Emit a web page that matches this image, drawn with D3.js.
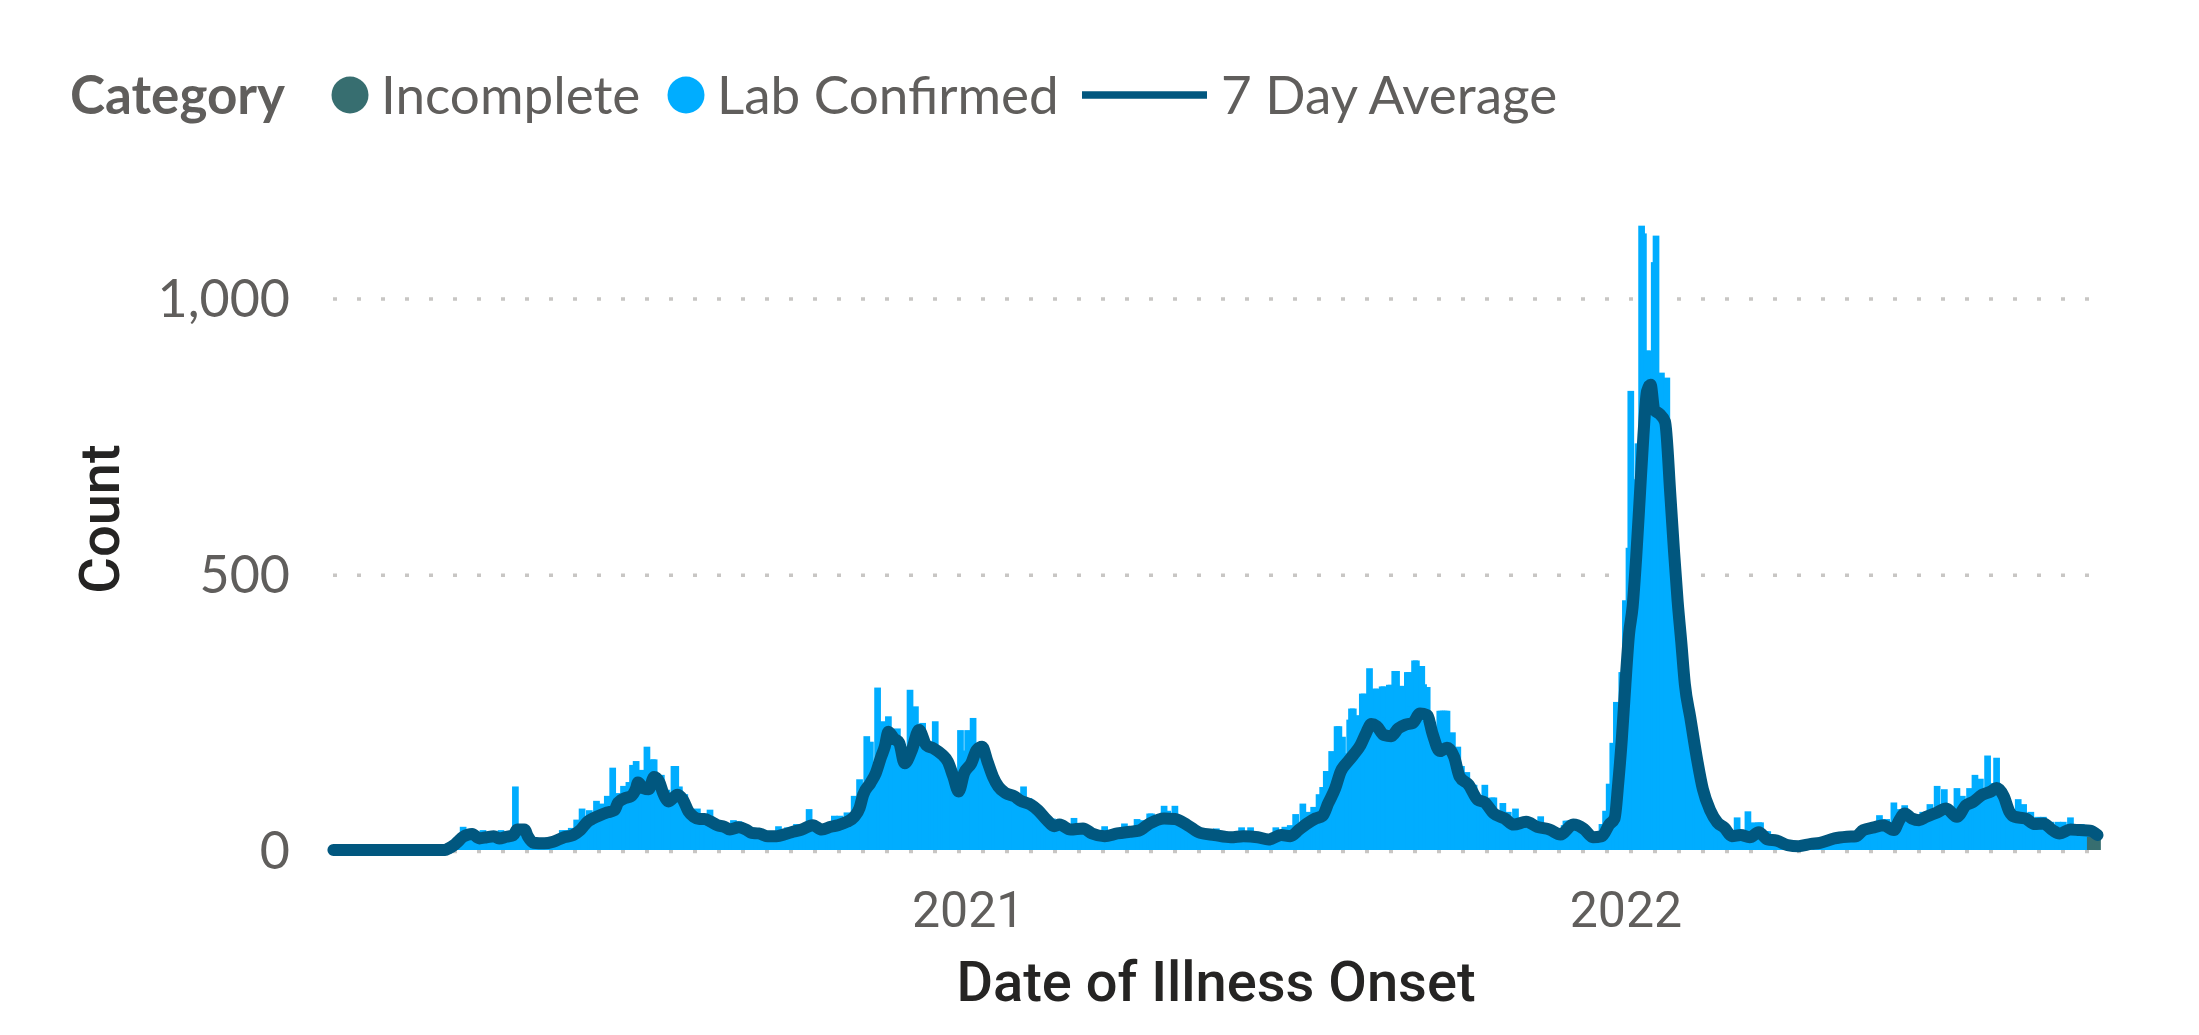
<!DOCTYPE html>
<meta charset="utf-8">
<style>
  body { margin: 0; background: #fff; }
  svg { display: block; }
</style>
<div id="chart"></div>
<script src="https://d3js.org/d3.v7.min.js"></script>
<script>

// first day shown on the axis; every daily array below counts days from here
var startDate = new Date(Date.UTC(2020, 0, 15));

// Lab Confirmed, one value per day (10 per row, row start day in the comment)
var labConfirmed = [
  0,0,0,0,0,0,0,0,0,0,            // 0
  0,0,0,0,0,0,0,0,0,0,
  0,0,0,0,0,0,0,0,0,0,
  0,0,0,0,0,0,0,0,0,0,
  0,0,0,0,0,0,0,0,0,0,
  0,0,0,0,0,0,1,1,2,3,            // 50
  3,4,5,6,7,8,9,11,13,15,
  18,20,42,22,26,28,29,28,27,25,
  22,21,22,36,23,23,24,24,25,25,
  22,21,24,36,24,24,25,26,26,27,
  28,115,38,40,40,40,38,36,27,25, // 100
  20,15,13,12,12,12,12,12,13,13,
  14,14,15,15,16,18,20,36,24,36,
  28,28,40,30,32,55,36,38,75,45,
  48,50,72,55,58,60,89,62,64,84,
  66,68,98,70,72,149,74,80,103,88, // 150
  90,116,95,100,123,105,154,110,161,125,
  120,145,120,125,187,130,140,164,164,130,
  125,120,136,110,105,109,95,100,98,152,
  152,98,115,95,90,101,80,70,66,60,
  60,58,75,55,54,64,52,50,50,73,  // 200
  48,48,46,45,45,44,43,42,42,40,
  40,40,54,42,42,52,41,40,40,40,
  38,36,34,33,33,32,32,31,31,30,
  29,28,28,28,27,27,28,43,28,29,
  30,31,41,32,33,34,35,47,37,38,  // 250
  38,39,40,41,74,42,42,41,40,40,
  40,40,41,42,43,44,45,46,62,50,
  50,62,52,54,55,68,56,58,60,98,
  70,75,128,90,100,110,206,125,196,135,
  140,150,294,170,180,233,190,200,242,205, // 300
  205,200,200,220,195,175,165,160,165,175,
  290,185,195,260,210,215,220,230,200,190,
  196,185,184,183,233,180,176,172,172,170,
  165,160,150,140,133,120,110,106,217,130,
  180,145,217,150,160,239,175,185,187,187, // 350
  187,175,165,151,150,140,133,131,131,120,
  115,109,108,106,104,100,97,97,96,95,
  94,92,90,115,88,86,94,84,82,79,
  76,74,72,68,64,60,58,55,53,57,
  50,48,48,48,47,46,45,44,42,40,  // 400
  38,58,38,37,37,38,39,39,38,36,
  34,32,30,29,28,27,26,27,43,27,
  28,29,30,31,31,32,32,33,34,48,
  34,34,42,34,35,36,56,37,38,54,
  42,44,48,66,66,50,52,60,54,56,  // 450
  57,80,60,71,58,57,56,80,55,55,
  52,57,48,46,44,42,40,38,36,34,
  33,31,30,30,29,29,28,28,28,27,
  39,26,25,25,24,24,24,23,23,23,
  23,24,24,25,41,25,25,25,25,41,  // 500
  24,24,23,23,23,22,22,21,20,20,
  21,22,23,41,25,26,27,27,42,26,
  26,45,28,30,65,34,38,42,84,45,
  48,69,50,52,78,70,70,101,80,114,
  95,143,110,120,179,130,140,224,224,150, // 550
  205,160,175,165,236,256,256,200,244,210,
  220,283,283,230,240,329,250,240,292,292,
  240,240,296,296,240,240,299,299,240,324,
  324,250,297,297,250,250,322,322,260,250,
  343,343,260,333,333,300,250,295,240,225, // 600
  232,200,190,200,252,252,252,252,252,190,
  185,213,170,170,187,140,152,140,130,141,
  120,110,118,118,105,95,90,90,88,118,
  86,85,80,95,95,70,65,62,60,85,
  58,57,69,55,50,48,75,48,50,52,  // 650
  52,53,53,52,50,48,46,45,44,43,
  61,42,42,41,40,40,39,38,38,37,
  36,35,40,45,53,53,53,53,53,45,
  40,36,35,34,33,32,30,28,26,24,
  23,23,24,30,47,45,71,50,120,100, // 700
  194,150,268,200,250,322,300,452,400,547,
  831,600,671,600,736,700,1130,1116,850,904,
  904,850,850,1064,1112,800,780,864,780,760,
  855,680,630,590,540,500,455,415,380,340,
  300,275,255,235,215,195,178,160,145,130, // 750
  115,105,95,86,78,72,66,61,56,52,
  48,44,41,38,34,30,27,25,24,59,
  25,26,25,25,24,70,24,30,50,30,
  30,50,50,30,30,34,34,25,18,15,
  14,13,12,11,10,9,9,8,8,7,       // 800
  7,7,6,6,7,8,9,10,11,12,
  13,13,13,12,12,13,13,14,14,15,
  15,16,17,18,19,20,21,22,22,23,
  23,24,24,25,25,26,28,30,42,34,
  36,38,40,47,40,41,42,43,63,44,  // 850
  45,42,56,40,38,45,86,50,55,74,
  60,62,81,60,60,58,57,56,55,54,
  54,56,69,58,60,62,83,64,66,68,
  116,70,72,73,110,75,70,70,75,68,
  65,112,70,75,98,80,81,84,112,86, // 900
  87,136,95,97,129,100,102,104,171,105,
  121,108,110,167,110,105,100,97,88,78,
  70,66,62,60,60,92,60,58,83,57,
  55,53,69,50,47,48,60,49,48,60,
  48,46,45,51,44,40,38,51,36,32,  // 950
  51,34,35,36,59,37,36,37,47,36,
  47,35,36,35,34,0,0,0,0,0
];

// Incomplete, last days of the series (from 2022-09-16)
var incompleteFirstDay = 975;
var incomplete = [24, 24, 24, 24, 24];

// 7 Day Average (day index, count)
var avgDay = [0,62,64,67,69,72,77,81,85,89,92,96,100,102,106,108,111,117,122,128,133,137,141,144,148,152,156,158,162,165,168,169,172,175,178,181,183,186,191,194,197,200,203,206,209,213,217,220,225,229,232,236,241,246,251,255,260,266,271,276,280,285,289,292,294,298,301,304,306,308,311,314,317,321,325,329,333,338,341,344,347,350,354,357,360,363,366,369,373,378,381,387,391,396,400,403,409,416,421,428,435,442,447,453,461,467,474,481,489,498,505,513,519,526,531,536,540,545,549,552,556,559,563,566,570,573,576,579,583,587,591,595,599,603,607,610,614,618,622,625,630,635,639,644,650,655,662,668,675,681,688,694,699,704,708,711,713,715,717,719,721,723,725,727,729,731,733,736,739,742,744,746,748,750,753,757,760,764,768,772,776,781,786,791,796,801,807,813,820,825,833,840,845,849,855,860,866,869,872,876,880,884,890,895,901,906,910,915,920,923,927,930,933,939,944,949,954,958,964,969,975,979];
var avgCount = [0,0,3,9,15,24,29,21,23,25,21,24,27,37,37,24,13,12,15,23,27,36,51,57,63,68,72,86,94,97,112,122,112,110,132,122,103,88,100,91,70,60,56,56,52,45,42,37,41,37,31,30,25,25,29,33,37,45,37,42,45,51,60,76,100,121,139,169,187,214,202,194,157,181,217,190,184,172,160,133,106,139,157,181,187,160,133,115,103,97,90,82,72,54,43,46,37,39,30,25,30,33,35,48,57,56,45,31,27,23,25,23,19,27,25,37,47,57,62,84,112,142,160,172,190,211,228,224,208,206,220,227,230,247,244,210,179,185,168,133,118,91,86,66,57,46,51,42,37,28,46,38,23,25,46,57,120,200,300,390,440,530,640,750,830,842,797,789,775,640,540,450,377,300,240,160,110,72,50,40,25,27,23,32,19,17,9,7,11,13,21,24,25,36,41,45,36,54,66,57,54,60,68,75,60,81,87,100,106,112,97,70,60,57,47,48,36,30,37,36,35,27];

var yTicks = [0, 500, 1000];
var categories = ["Incomplete", "Lab Confirmed", "7 Day Average"];

var colors = { "Incomplete": "#376E70", "Lab Confirmed": "#00ADFF", "7 Day Average": "#01577F" };
var grey = "#605E5C";

var width = 2199, height = 1035;
var svg = d3.select("#chart").append("svg")
    .attr("width", width)
    .attr("height", height)
    .style("background", "#fff");

function day(i) { return d3.utcDay.offset(startDate, i); }

var x = d3.scaleUtc()
    .domain([startDate, day(979)])
    .range([333.4, 2097.5]);

var y = d3.scaleLinear()
    .domain([0, 1000])
    .range([850, 297.5]);

var barW = 6.7;

// dotted gridlines
svg.append("g")
  .selectAll("line")
  .data(yTicks)
  .enter().append("line")
    .attr("x1", 333)
    .attr("x2", 2099)
    .attr("y1", function(d) { return y(d) + 1.5; })
    .attr("y2", function(d) { return y(d) + 1.5; })
    .attr("stroke", "#C8C6C4")
    .attr("stroke-width", 3.5)
    .attr("stroke-dasharray", "4 20");

// lab confirmed columns
svg.append("g")
    .attr("fill", colors["Lab Confirmed"])
  .selectAll("rect")
  .data(labConfirmed.map(function(v, i) { return { date: day(i), value: v }; })
                    .filter(function(d) { return d.value > 0; }))
  .enter().append("rect")
    .attr("x", function(d) { return x(d.date) - barW / 2; })
    .attr("y", function(d) { return y(d.value); })
    .attr("width", barW)
    .attr("height", function(d) { return y(0) - y(d.value); });

// incomplete columns
svg.append("g")
    .attr("fill", colors["Incomplete"])
  .selectAll("rect")
  .data(incomplete.map(function(v, i) { return { date: day(incompleteFirstDay + i), value: v }; }))
  .enter().append("rect")
    .attr("x", function(d) { return x(d.date) - barW / 2; })
    .attr("y", function(d) { return y(d.value); })
    .attr("width", barW)
    .attr("height", function(d) { return y(0) - y(d.value); });

// 7 day average
var line = d3.line()
    .x(function(d) { return x(d.date); })
    .y(function(d) { return y(d.value); })
    .curve(d3.curveMonotoneX);

svg.append("path")
    .datum(avgDay.map(function(dd, i) { return { date: day(dd), value: avgCount[i] }; }))
    .attr("fill", "none")
    .attr("stroke", colors["7 Day Average"])
    .attr("stroke-width", 12)
    .attr("stroke-linejoin", "round")
    .attr("stroke-linecap", "round")
    .attr("d", line);

// y axis
var yAxis = svg.append("g")
    .attr("transform", "translate(290,0)")
    .call(d3.axisLeft(y).tickValues(yTicks).tickSize(0).tickPadding(0).tickFormat(d3.format(",")));
yAxis.select(".domain").remove();
yAxis.selectAll("text")
    .attr("dy", "0.36em")
    .attr("fill", grey)
    .style("font-family", "'Segoe UI', Lato, sans-serif")
    .style("font-size", "52px");

// x axis
var xAxis = svg.append("g")
    .attr("transform", "translate(0,888)")
    .call(d3.axisBottom(x).tickValues(d3.utcYear.range(startDate, day(979))).tickSize(0).tickPadding(0).tickFormat(d3.utcFormat("%Y")));
xAxis.select(".domain").remove();
xAxis.selectAll("text")
    .attr("dy", "0.78em")
    .attr("fill", grey)
    .style("font-family", "DIN, Roboto, sans-serif")
    .style("font-size", "50px");

// axis titles
svg.append("text")
    .attr("x", (333 + 2099) / 2)
    .attr("y", 1001)
    .attr("text-anchor", "middle")
    .attr("fill", "#252423")
    .style("font-family", "DIN, Roboto, sans-serif")
    .style("font-weight", 500)
    .style("font-size", "56px")
    .text("Date of Illness Onset");

svg.append("text")
    .attr("transform", "translate(119,519)rotate(-90)")
    .attr("text-anchor", "middle")
    .attr("fill", "#252423")
    .style("font-family", "DIN, Roboto, sans-serif")
    .style("font-weight", 500)
    .style("font-size", "56px")
    .text("Count");

// legend
var legend = svg.append("g")
    .style("font-family", "'Segoe UI', Lato, sans-serif")
    .style("font-size", "53px")
    .attr("fill", grey);

legend.append("text")
    .attr("x", 70)
    .attr("y", 114)
    .style("font-weight", 700)
    .text("Category");

var legendX = { "Incomplete": 350, "Lab Confirmed": 686, "7 Day Average": 1082 };

categories.forEach(function(c) {
  if (c === "7 Day Average") {
    legend.append("line")
        .attr("x1", legendX[c])
        .attr("x2", legendX[c] + 125)
        .attr("y1", 95)
        .attr("y2", 95)
        .attr("stroke", colors[c])
        .attr("stroke-width", 7.5);
    legend.append("text")
        .attr("x", legendX[c] + 139)
        .attr("y", 114)
        .text(c);
  } else {
    legend.append("circle")
        .attr("cx", legendX[c])
        .attr("cy", 95)
        .attr("r", 18.5)
        .attr("fill", colors[c]);
    legend.append("text")
        .attr("x", legendX[c] + 31)
        .attr("y", 114)
        .text(c);
  }
});

</script>
